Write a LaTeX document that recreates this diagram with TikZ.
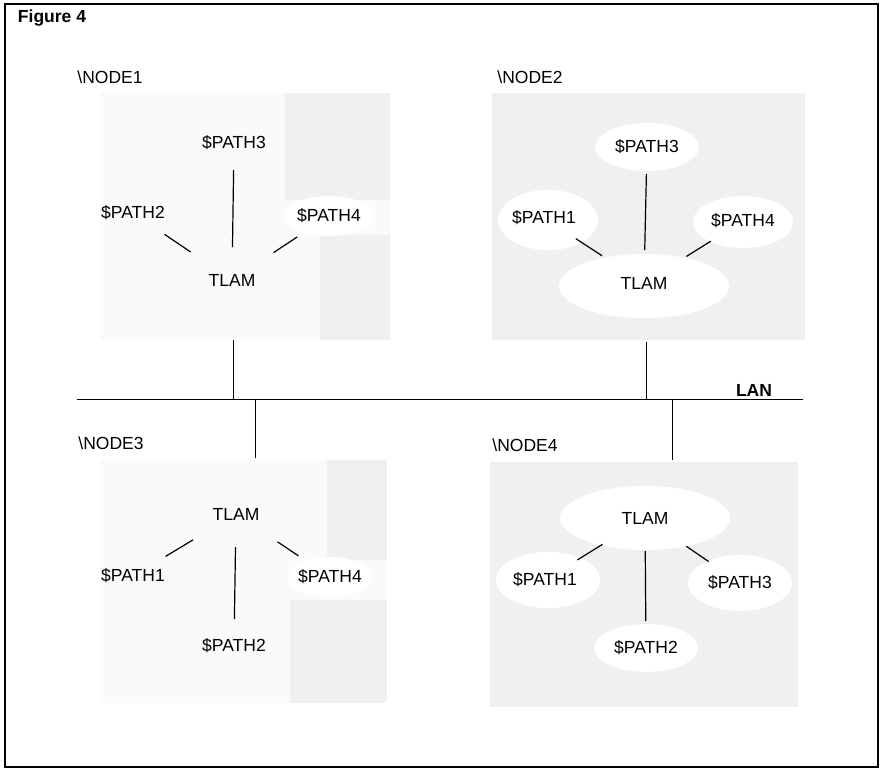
\documentclass[tikz,border=0pt]{standalone}
\usepackage{fontspec}
\setmainfont{Liberation Sans}
\usetikzlibrary{positioning}
\colorlet{stipple}{black!6}
\colorlet{faint}{black!2}
\begin{document}
\begin{tikzpicture}[x=1pt,y=-1pt]
\useasboundingbox (0,0) rectangle (887,771);

\tikzstyle{txt} = [inner sep=0pt, font=\fontsize{17.5}{20}\selectfont];
\tikzstyle{bold} = [txt, font=\fontsize{17.5}{20}\selectfont\bfseries];
\tikzstyle{spoke} = [line width=1.2pt, shorten <=50pt, shorten >=38pt];
\tikzstyle{stem} = [line width=1.2pt, shorten <=33pt, shorten >=27pt];
\tikzstyle{wire} = [line width=1pt];
\tikzstyle{cloud} = [white];

% shaded node areas
\fill[faint] (100,93) rectangle (390,340);
\fill[stipple] (285,93) rectangle (390,200);
\fill[stipple] (320,235) rectangle (390,340);
\fill[cloud] (329,216) ellipse [x radius=45, y radius=20];

\begin{scope}
\clip (492,93) rectangle (805,340);
\fill[stipple] (492,93) rectangle (805,340);
\fill[cloud] (647,147) ellipse [x radius=52, y radius=24];
\fill[cloud] (548,220) ellipse [x radius=50, y radius=30];
\fill[cloud] (743,222) ellipse [x radius=50, y radius=26];
\fill[cloud] (644,286) ellipse [x radius=85, y radius=32];
\end{scope}

\fill[faint] (100,460) rectangle (387,703);
\fill[stipple] (327,460) rectangle (387,560);
\fill[stipple] (290,600) rectangle (387,703);
\fill[cloud] (330,577) ellipse [x radius=42, y radius=20];

\begin{scope}
\clip (490,462) rectangle (798,707);
\fill[stipple] (490,462) rectangle (798,707);
\fill[cloud] (645,518) ellipse [x radius=85, y radius=32];
\fill[cloud] (548,580) ellipse [x radius=52, y radius=28];
\fill[cloud] (740,583) ellipse [x radius=52, y radius=28];
\fill[cloud] (646,648) ellipse [x radius=52, y radius=24];
\end{scope}

\draw[line width=1.5pt] (5,4) rectangle (878,767);
\node[bold] (fig) at (52,18) {Figure 4};

% NODE1
\node[txt] (n1) at (110,77) {\textbackslash NODE1};
\node[txt] (n1tlam) at (232,280) {TLAM};
\node[txt] (n1p2) at (133,213) {\$PATH2};
\node[txt] (n1p3) at (234,143) {\$PATH3};
\node[txt] (n1p4) at (329,216) {\$PATH4};
\draw[spoke] (n1tlam.center) -- (n1p2.center);
\draw[stem] (n1tlam.center) -- (n1p3.center);
\draw[spoke] (n1tlam.center) -- (n1p4.center);

% NODE2
\node[txt] (n2) at (530,77) {\textbackslash NODE2};
\node[txt] (n2tlam) at (644,283) {TLAM};
\node[txt] (n2p1) at (544,218) {\$PATH1};
\node[txt] (n2p3) at (647,147) {\$PATH3};
\node[txt] (n2p4) at (743,221) {\$PATH4};
\draw[spoke] (n2tlam.center) -- (n2p1.center);
\draw[stem] (n2tlam.center) -- (n2p3.center);
\draw[spoke] (n2tlam.center) -- (n2p4.center);

% NODE3
\node[txt] (n3) at (111,443) {\textbackslash NODE3};
\node[txt] (n3tlam) at (236,514) {TLAM};
\node[txt] (n3p1) at (133,576) {\$PATH1};
\node[txt] (n3p2) at (234,646) {\$PATH2};
\node[txt] (n3p4) at (330,577) {\$PATH4};
\draw[spoke] (n3tlam.center) -- (n3p1.center);
\draw[stem] (n3tlam.center) -- (n3p2.center);
\draw[spoke] (n3tlam.center) -- (n3p4.center);

% NODE4
\node[txt] (n4) at (525,445) {\textbackslash NODE4};
\node[txt] (n4tlam) at (645,518) {TLAM};
\node[txt] (n4p1) at (545,580) {\$PATH1};
\node[txt] (n4p2) at (646,648) {\$PATH2};
\node[txt] (n4p3) at (740,583) {\$PATH3};
\draw[spoke] (n4tlam.center) -- (n4p1.center);
\draw[stem] (n4tlam.center) -- (n4p2.center);
\draw[spoke] (n4tlam.center) -- (n4p3.center);

% LAN
\coordinate (lanw) at (77,399);
\coordinate (lane) at (803,399);
\node[bold] (lan) at (754,390) {LAN};
\coordinate (lan1) at (233,399);
\coordinate (lan2) at (646,399);
\coordinate (lan3) at (255,399);
\coordinate (lan4) at (672,399);
\coordinate (d1) at (233,340);
\coordinate (d2) at (646,342);
\coordinate (d3) at (255,458);
\coordinate (d4) at (672,460);
\draw[wire] (lanw) -- (lane);
\draw[wire] (d1) -- (lan1);
\draw[wire] (d2) -- (lan2);
\draw[wire] (lan3) -- (d3);
\draw[wire] (lan4) -- (d4);

\end{tikzpicture}
\end{document}
